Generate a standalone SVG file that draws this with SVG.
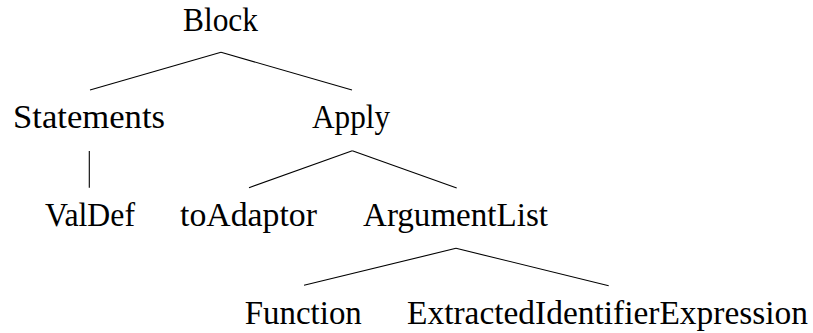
<svg xmlns="http://www.w3.org/2000/svg" width="813" height="333" viewBox="0 0 813 333">
<style>
text{font-family:"Liberation Serif","DejaVu Serif",serif;font-size:33px;fill:#000;text-anchor:middle}
line{stroke:#000;stroke-width:1.1}
</style>
<rect width="813" height="333" fill="#fff"/>
<g id="connectors">
<line x1="221" y1="52.3" x2="90" y2="90"/>
<line x1="221" y1="52.3" x2="352" y2="90"/>
<line x1="89.3" y1="151" x2="89.3" y2="187.7"/>
<line x1="352.3" y1="150.7" x2="249" y2="187.7"/>
<line x1="352.3" y1="150.7" x2="456.7" y2="188"/>
<line x1="456" y1="248.3" x2="304" y2="285.3"/>
<line x1="456" y1="248.3" x2="608.7" y2="285.7"/>
</g>
<g id="block"><text x="220.5" y="30.7" textLength="75" lengthAdjust="spacingAndGlyphs">Block</text></g>
<g id="statements"><text x="89" y="128.3" textLength="152" lengthAdjust="spacingAndGlyphs">Statements</text></g>
<g id="apply"><text x="351" y="128.3" textLength="78" lengthAdjust="spacingAndGlyphs">Apply</text></g>
<g id="valdef"><text x="90" y="226" textLength="90" lengthAdjust="spacingAndGlyphs">ValDef</text></g>
<g id="toadaptor"><text x="248.5" y="226" textLength="137" lengthAdjust="spacingAndGlyphs">toAdaptor</text></g>
<g id="argumentlist"><text x="455.5" y="226" textLength="185" lengthAdjust="spacingAndGlyphs">ArgumentList</text></g>
<g id="function"><text x="303.3" y="323.7" textLength="117" lengthAdjust="spacingAndGlyphs">Function</text></g>
<g id="extracted"><text x="607.5" y="323.7" textLength="401" lengthAdjust="spacingAndGlyphs">ExtractedIdentifierExpression</text></g>
</svg>
